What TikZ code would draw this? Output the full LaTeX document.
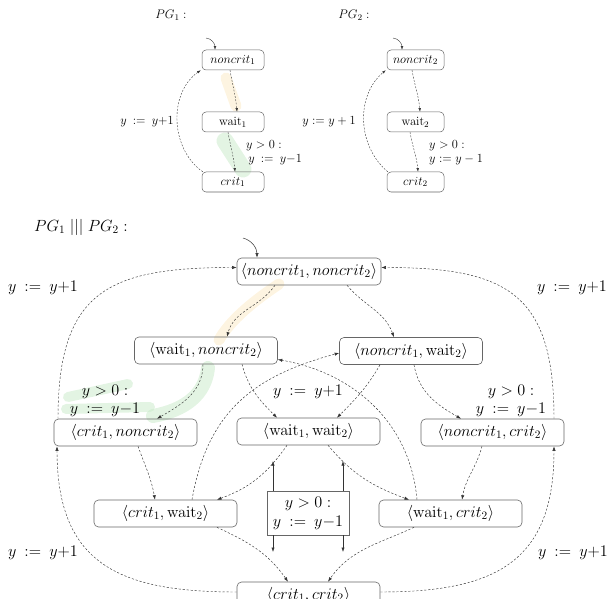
\RequirePackage{fix-cm}
\documentclass[tikz,border=0pt]{standalone}
\usetikzlibrary{arrows.meta}
\newcommand\bigf{\fontsize{16.2}{19}\selectfont}
\newcommand\smlf{\fontsize{12.4}{15}\selectfont}
\newcommand\wt{\mathrm{wait}}
\definecolor{hlg}{RGB}{200,234,200}
\definecolor{hlo}{RGB}{252,234,196}
\begin{document}
\begin{tikzpicture}[x=1pt,y=1pt,
  st/.style={draw=black!60, line width=0.6pt, rounded corners=4.5pt, minimum width=143pt, minimum height=27pt, inner sep=2pt, font=\bigf},
  sst/.style={draw=black!60, line width=0.5pt, rounded corners=4pt, minimum width=62pt, minimum height=20pt, inner sep=1.5pt, font=\smlf},
  lab/.style={font=\bigf, inner sep=0pt, align=center},
  slab/.style={font=\smlf, inner sep=0pt, align=left},
  ed/.style={draw=black!80, line width=0.45pt, dash pattern=on 2.2pt off 1.8pt, -{Latex[length=4.5pt,width=3.2pt]}},
  sed/.style={draw=black!80, line width=0.4pt, dash pattern=on 1.8pt off 1.5pt, -{Latex[length=3.6pt,width=2.6pt]}},
  sol/.style={draw=black!80, line width=0.5pt, -{Latex[length=4.5pt,width=3.2pt]}},
  ssol/.style={draw=black!80, line width=0.4pt, -{Latex[length=3.6pt,width=2.6pt]}},
  hl/.style={line cap=round, line join=round, opacity=0.5}
]
\useasboundingbox (0,0) rectangle (608,-599);
\clip (0,0) rectangle (608,-599);

% highlights
\draw[hl, hlo, line width=11pt] (226,-78) -- (236,-106);
\draw[hl, hlg, line width=17pt] (225,-141) -- (243,-169);
\draw[hl, hlo, line width=11pt] (279,-284) .. controls (255,-300) and (230,-320) .. (219,-340);
\draw[hl, hlg, line width=14pt] (208,-368) .. controls (205,-395) and (185,-410) .. (153,-416);
\draw[hl, hlg, line width=10pt] (68,-397) -- (128,-384);
\draw[hl, hlg, line width=10pt] (66,-409) -- (150,-407);

% ---------- PG1 ----------
\node[font=\smlf] (t1) at (171,-15) {$PG_1 :$};
\node[sst] (n1) at (233,-60) {$noncrit_1$};
\node[sst] (w1) at (233,-122) {$\wt_1$};
\node[sst] (c1) at (233,-182) {$crit_1$};
\coordinate (i1) at (206,-38);
\draw[ssol] (i1) to[out=-5,in=90] ([xshift=-18]n1.north);
\draw[sed] ([xshift=-3]n1.south) to[out=-80,in=95] ([xshift=4]w1.north);
\draw[sed] ([xshift=-5]w1.south) to[out=-80,in=95] ([xshift=2]c1.north);
\draw[sed] ([xshift=1]c1.north west) to[out=145,in=-145] ([xshift=-1]n1.south west);
\node[slab] (a1) at (147,-122) {$y \::=\: y{+}1$};
\node[slab, anchor=west] (b1) at (246,-152.5) {$y > 0 :$\\[-1pt]$\,y \::=\: y{-}1$};

% ---------- PG2 ----------
\node[font=\smlf] (t2) at (354,-15) {$PG_2 :$};
\node[sst, minimum width=57pt] (n2) at (415.5,-60) {$noncrit_2$};
\node[sst, minimum width=57pt] (w2) at (415.5,-122) {$\wt_2$};
\node[sst, minimum width=57pt] (c2) at (415.5,-182) {$crit_2$};
\coordinate (i2) at (393,-38);
\draw[ssol] (i2) to[out=-5,in=90] ([xshift=-13.5]n2.north);
\draw[sed] ([xshift=-3.5]n2.south) to[out=-80,in=95] ([xshift=4.5]w2.north);
\draw[sed] ([xshift=-5.5]w2.south) to[out=-80,in=95] ([xshift=2.5]c2.north);
\draw[sed] ([xshift=1]c2.north west) to[out=140,in=-140] ([xshift=-1]n2.south west);
\node[slab] (a2) at (329,-122) {$y := y + 1$};
\node[slab, anchor=west] (b2) at (429,-152.5) {$y > 0 :$\\[-1pt]$y := y - 1$};

% ---------- PG1 ||| PG2 ----------
\node[font=\bigf] (t3) at (81,-227) {$PG_1 \mathrel{|||} PG_2 :$};
\node[st, minimum width=144pt] (N0) at (309,-271.5) {$\langle noncrit_1, noncrit_2\rangle$};
\node[st] (N1) at (206,-350.5) {$\langle \wt_1, noncrit_2\rangle$};
\node[st] (N2) at (411,-351) {$\langle noncrit_1, \wt_2\rangle$};
\node[st] (N3) at (125.5,-432.5) {$\langle crit_1, noncrit_2\rangle$};
\node[st] (N4) at (308.5,-431.5) {$\langle \wt_1, \wt_2\rangle$};
\node[st] (N5) at (492.5,-432.5) {$\langle noncrit_1, crit_2\rangle$};
\node[st] (N6) at (165.5,-513.5) {$\langle crit_1, \wt_2\rangle$};
\node[st] (N7) at (450.5,-513.5) {$\langle \wt_1, crit_2\rangle$};
\node[st] (N8) at (308.5,-595.5) {$\langle crit_1, crit_2\rangle$};
\node[draw=black!60, line width=0.6pt, minimum width=82pt, minimum height=44pt, inner sep=2pt, font=\bigf, align=center] (B) at (308,-513) {$y > 0 :$\\$y \::=\: y{-}1$};

\coordinate (i3) at (243,-238);
\draw[sol] (i3) to[out=-15,in=90] ([xshift=-52]N0.north);

\draw[ed] ([xshift=-34]N0.south) to[out=-125,in=75] ([xshift=21]N1.north);
\draw[ed] ([xshift=38]N0.south) to[out=-50,in=110] ([xshift=-17]N2.north);
\draw[ed] ([xshift=-3]N1.south) to[out=-90,in=30] ([xshift=31.5]N3.north);
\draw[ed] ([xshift=36]N1.south) to[out=-75,in=135] ([xshift=-31.5]N4.north);
\draw[ed] ([xshift=-31]N2.south) to[out=-120,in=45] ([xshift=28.5]N4.north);
\draw[ed] ([xshift=3]N2.south) to[out=-80,in=150] ([xshift=-31.5]N5.north);
\draw[ed] ([xshift=12.5]N3.south) to[out=-70,in=100] ([xshift=-10.5]N6.north);
\draw[ed] ([xshift=-21.5]N4.south) to[out=-125,in=20] ([xshift=51.5]N6.north);
\draw[ed] ([xshift=19.5]N4.south) to[out=-50,in=160] ([xshift=-41.5]N7.north);
\draw[ed] ([xshift=-10.5]N5.south) to[out=-105,in=80] ([xshift=11.5]N7.north);
\draw[ed] ([xshift=51.5]N6.south) to[out=-25,in=125] ([xshift=-20.5]N8.north);
\draw[ed] ([xshift=-36.5]N7.south) to[out=-155,in=55] ([xshift=19.5]N8.north);

% back edges
\draw[ed] ([xshift=-67.5]N3.north) to[out=90,in=180,looseness=1.4] ([yshift=4]N0.west);
\draw[ed] ([xshift=61.5]N5.north) to[out=90,in=0,looseness=1.4] ([yshift=4]N0.east);
\draw[ed] ([yshift=3.5]N8.west) to[out=180,in=-90,looseness=1.3] ([xshift=-68.5]N3.south);
\draw[ed] ([yshift=3.5]N8.east) to[out=0,in=-90,looseness=1.3] ([xshift=61.5]N5.south);
\draw[ed] ([xshift=26.5]N6.north) to[out=80,in=195,looseness=1.1] ([yshift=-2]N2.west);
\draw[ed] ([xshift=-33.5]N7.north) to[out=95,in=-10] ([yshift=-9]N1.east);

% label arrows of B
\coordinate (u1) at (273,-461);
\coordinate (u2) at (343,-461);
\coordinate (d1) at (273,-552);
\coordinate (d2) at (343,-552);
\draw[sol] ([xshift=-35]B.north) -- (u1);
\draw[sol] ([xshift=35]B.north) -- (u2);
\draw[sol] ([xshift=-35]B.south) -- (d1);
\draw[sol] ([xshift=35]B.south) -- (d2);

% labels
\node[lab] (L1) at (43,-288) {$y \::=\: y{+}1$};
\node[lab] (L2) at (572,-288) {$y \::=\: y{+}1$};
\node[lab] (L3) at (43,-553) {$y \::=\: y{+}1$};
\node[lab] (L4) at (573,-553) {$y \::=\: y{+}1$};
\node[lab] (L5) at (308,-392) {$y \::=\: y{+}1$};
\node[lab] (G1) at (105,-401) {$y > 0 :$\\[-1pt]$y \::=\: y{-}1$};
\node[lab] (G2) at (511,-401) {$y > 0 :$\\[-1pt]$y \::=\: y{-}1$};
\end{tikzpicture}
\end{document}
